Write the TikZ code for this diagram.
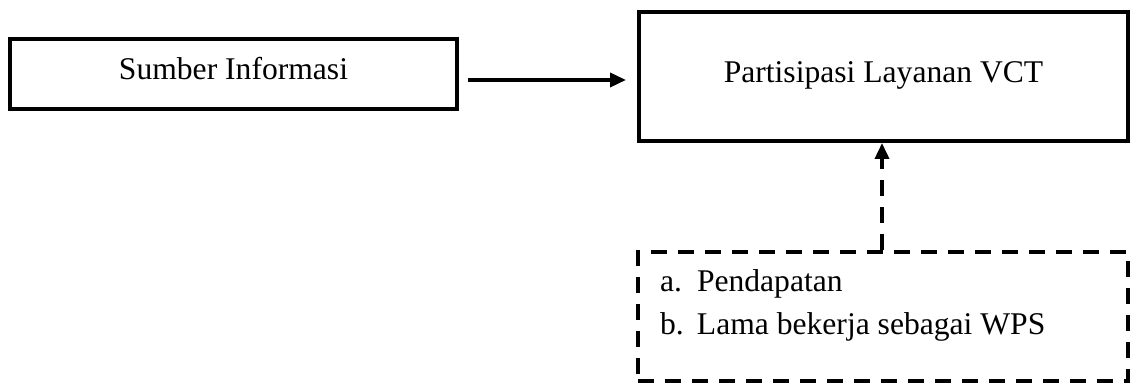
\documentclass[tikz,border=0pt]{standalone}
\usepackage{fontspec}
\setmainfont{Liberation Serif}
\usetikzlibrary{arrows.meta}

\begin{document}
\begin{tikzpicture}[x=0.5pt,y=0.5pt,
		every node/.style={font=\fontsize{15.8}{21.5}\selectfont},
		kotak/.style={draw,line width=2pt,rectangle,inner sep=0pt,text height=11pt,text depth=5pt},
		putus/.style={dash pattern=on 8pt off 5.5pt},
		panah/.style={line width=1.8pt,-{Triangle[length=8pt,width=7pt]}}]
	\useasboundingbox (0,0) rectangle (1130,383);
	\node[kotak,minimum width=223.5pt,minimum height=35pt] (sumber) at (233.5,309) {Sumber Informasi};
	\node[kotak,minimum width=244.5pt,minimum height=64.5pt] (partisipasi) at (883.5,306.5) {Partisipasi Layanan VCT};
	\node[kotak,putus,minimum width=245pt,minimum height=64.5pt,text height=10pt,text depth=34.5pt] (faktor) at (883,66.5)
		{\begin{tabular}[t]{@{}p{18.5pt}@{}p{204.5pt}@{}}
			a. & Pendapatan \\
			b. & Lama bekerja sebagai WPS
		\end{tabular}};
	\draw[panah,shorten <=4.5pt,shorten >=5.5pt] ([yshift=-1.75pt]sumber.east |- partisipasi.west) -- ([yshift=-1.75pt]partisipasi.west);
	\draw[panah,putus] ([xshift=-0.5pt]faktor.north) -- ([xshift=-0.5pt]faktor.north |- partisipasi.south);
\end{tikzpicture}
\end{document}
